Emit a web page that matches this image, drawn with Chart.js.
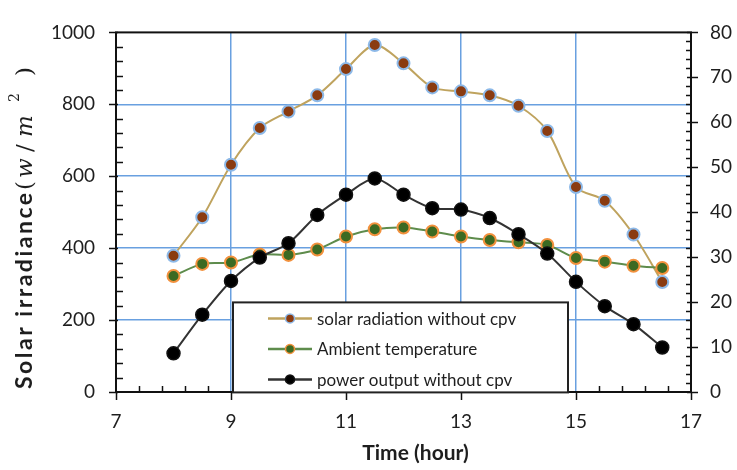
<!DOCTYPE html>
<html>
<head>
<meta charset="utf-8">
<script src="https://cdn.jsdelivr.net/npm/chart.js@4.4.1/dist/chart.umd.min.js"></script>
<style>
  html, body { margin: 0; padding: 0; background: #fff; }
  canvas { display: block; }
</style>
</head>
<body>
<canvas id="c" width="737" height="470"></canvas>
<script>
// Hourly measurements through the day
const hours = [8, 8.5, 9, 9.5, 10, 10.5, 11, 11.5, 12, 12.5, 13, 13.5, 14, 14.5, 15, 15.5, 16, 16.5];
const solarRadiation = [379, 486, 632, 734, 780, 825, 898, 965, 914, 847, 836, 825, 796, 726, 570, 532, 438, 306];
const ambientTemperature = [25.8, 28.5, 28.8, 30.6, 30.5, 31.7, 34.6, 36.2, 36.6, 35.7, 34.6, 33.8, 33.3, 32.7, 29.8, 29.0, 28.1, 27.6];
const powerOutput = [8.6, 17.2, 24.7, 29.9, 33.1, 39.4, 43.9, 47.5, 43.9, 40.9, 40.6, 38.7, 35.1, 30.8, 24.5, 19.1, 15.1, 9.9];
const seriesNames = ['solar radiation without cpv', 'Ambient temperature', 'power output without cpv'];

// Axis tick labels
const xTickValues = [7, 9, 11, 13, 15, 17];
const leftTickValues = [0, 200, 400, 600, 800, 1000];
const rightTickValues = [0, 10, 20, 30, 40, 50, 60, 70, 80];

const GRID_BLUE = '#69A0E0';
const INK = '#1e1e1e';

const points = ys => hours.map((h, i) => ({ x: h, y: ys[i] }));
const innerGrid = (lo, hi) => c =>
  (c.tick && c.tick.value > lo && c.tick.value < hi) ? GRID_BLUE : 'rgba(0,0,0,0)';

// Frame, tick marks, axis titles and legend box
const decor = {
  id: 'decor',
  afterDatasetsDraw(chart) {
    const { ctx, chartArea: a, scales } = chart;
    const sx = scales.x, sl = scales.y, sr = scales.y2;
    const seg = (x1, y1, x2, y2) => { ctx.beginPath(); ctx.moveTo(x1, y1); ctx.lineTo(x2, y2); ctx.stroke(); };
    ctx.save();
    ctx.strokeStyle = '#111';
    ctx.lineWidth = 1.5;
    // x axis: major every 2 h, minor every 0.4 h
    for (let i = 0; i <= 25; i++) {
      const px = Math.round(sx.getPixelForValue(7 + i * 0.4)) + 0.5;
      if (i % 5 === 0) seg(px, a.bottom, px, a.bottom + 8);
      else seg(px, a.bottom - 6, px, a.bottom);
    }
    // left axis: major every 200, minor every 40
    for (let i = 0; i <= 25; i++) {
      const py = Math.round(sl.getPixelForValue(i * 40)) + 0.5;
      if (i % 5 === 0) seg(a.left - 7, py, a.left + 2, py);
      else seg(a.left, py, a.left + 7, py);
    }
    // right axis: major every 10, minor every 2
    for (let i = 0; i <= 40; i++) {
      const py = Math.round(sr.getPixelForValue(i * 2)) + 0.5;
      if (i % 5 === 0) seg(a.right - 4, py, a.right + 7, py);
      else seg(a.right - 5, py, a.right, py);
    }
    // plot frame
    ctx.lineWidth = 2;
    ctx.strokeStyle = '#111';
    ctx.strokeRect(a.left, a.top, a.right - a.left, a.bottom - a.top);

    // legend box
    const lx = a.left + 117, ly = a.top + 270, lw = 335, lh = 90;
    ctx.fillStyle = '#fff';
    ctx.fillRect(lx, ly, lw, lh);
    ctx.lineWidth = 2;
    ctx.strokeStyle = '#222';
    ctx.strokeRect(lx, ly, lw, lh);
    chart.data.datasets.forEach((ds, i) => {
      const cy = ly + 16 + i * 30.5;
      ctx.strokeStyle = ds.borderColor;
      ctx.lineWidth = 2.5;
      seg(lx + 35, cy, lx + 79, cy);
      ctx.beginPath();
      ctx.arc(lx + 57, cy, 4.5, 0, Math.PI * 2);
      ctx.fillStyle = ds.pointBackgroundColor;
      ctx.fill();
      ctx.lineWidth = 1.5;
      ctx.strokeStyle = ds.pointBorderColor;
      ctx.stroke();
      ctx.fillStyle = INK;
      ctx.font = '17px Lato';
      ctx.textBaseline = 'middle';
      ctx.textAlign = 'left';
      ctx.fillText(ds.label, lx + 84, cy + 1);
    });
    ctx.restore();
  },
  afterDraw(chart) {
    const { ctx, chartArea: a } = chart;
    ctx.save();
    ctx.fillStyle = INK;
    // x axis title
    ctx.font = 'bold 21px Lato';
    ctx.textAlign = 'center';
    ctx.textBaseline = 'alphabetic';
    ctx.fillText('Time (hour)', (a.left + a.right) / 2 + 12, a.bottom + 68);

    // left axis title, rotated, with the unit set in math italics
    ctx.translate(32, a.bottom - 3);
    ctx.rotate(-Math.PI / 2);
    ctx.textAlign = 'left';
    ctx.font = 'bold 23px Lato';
    ctx.letterSpacing = '2.5px';
    ctx.fillText('Solar irradiance', 0, 0);
    ctx.letterSpacing = '0px';
    ctx.font = '23px "DejaVu Serif"';
    ctx.fillText('(', 199, 0);
    ctx.font = 'italic 23px "DejaVu Serif"';
    ctx.fillText('w', 211, 0);
    ctx.font = '23px "DejaVu Serif"';
    ctx.fillText('/', 237, 0);
    ctx.font = 'italic 23px "DejaVu Serif"';
    ctx.fillText('m', 252, 0);
    ctx.font = '14px "DejaVu Serif"';
    ctx.fillText('2', 287, -13);
    ctx.font = '23px "DejaVu Serif"';
    ctx.fillText(')', 313, 0);
    ctx.restore();
  }
};

const tickFont = { family: 'Lato', size: 19 };
const plainLabel = v => String(v);

new Chart(document.getElementById('c'), {
  type: 'line',
  data: {
    datasets: [
      {
        label: seriesNames[0],
        data: points(solarRadiation),
        yAxisID: 'y',
        order: 3,
        borderColor: '#BFA35E',
        borderWidth: 2,
        pointBackgroundColor: '#8A3B10',
        pointBorderColor: '#8DB9E8',
        pointBorderWidth: 2,
        pointRadius: 6,
        tension: 0.3
      },
      {
        label: seriesNames[1],
        data: points(ambientTemperature),
        yAxisID: 'y2',
        order: 2,
        borderColor: '#5E8C4C',
        borderWidth: 2,
        pointBackgroundColor: '#3C6A22',
        pointBorderColor: '#F2913D',
        pointBorderWidth: 2,
        pointRadius: 6,
        tension: 0.3
      },
      {
        label: seriesNames[2],
        data: points(powerOutput),
        yAxisID: 'y2',
        order: 1,
        borderColor: '#333333',
        borderWidth: 2,
        pointBackgroundColor: '#000000',
        pointBorderColor: '#111111',
        pointBorderWidth: 1.5,
        pointRadius: 6.5,
        tension: 0.3
      }
    ]
  },
  options: {
    responsive: false,
    animation: false,
    devicePixelRatio: 1,
    layout: { padding: { top: 20, left: 0, right: 0, bottom: 0 } },
    plugins: { legend: { display: false }, tooltip: { enabled: false } },
    scales: {
      x: {
        type: 'linear',
        min: 7,
        max: 17,
        afterBuildTicks: s => { s.ticks = xTickValues.map(v => ({ value: v })); },
        afterFit: s => { s.height = 78; },
        grid: { color: innerGrid(7, 17), lineWidth: 1.5, drawTicks: false },
        border: { display: false },
        ticks: { font: tickFont, color: INK, padding: 18, maxRotation: 0, autoSkip: false, callback: plainLabel }
      },
      y: {
        position: 'left',
        min: 0,
        max: 1000,
        afterBuildTicks: s => { s.ticks = leftTickValues.map(v => ({ value: v })); },
        afterFit: s => { s.width = 116; },
        grid: { color: innerGrid(0, 1000), lineWidth: 1.5, drawTicks: false },
        border: { display: false },
        ticks: { font: tickFont, color: INK, padding: 21, callback: plainLabel }
      },
      y2: {
        position: 'right',
        min: 0,
        max: 80,
        afterBuildTicks: s => { s.ticks = rightTickValues.map(v => ({ value: v })); },
        afterFit: s => { s.width = 46; },
        grid: { display: false, drawTicks: false },
        border: { display: false },
        ticks: { font: tickFont, color: INK, padding: 19, callback: plainLabel }
      }
    }
  },
  plugins: [decor]
});
</script>
</body>
</html>
